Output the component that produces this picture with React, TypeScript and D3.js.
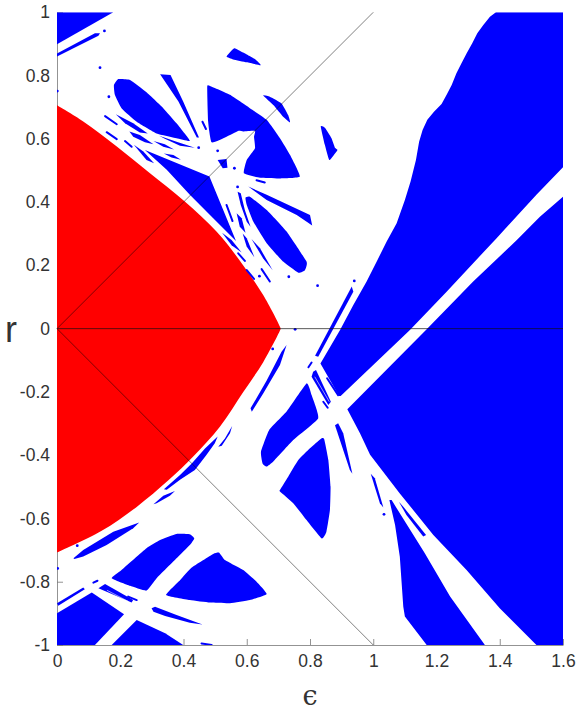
import React, { useEffect, useRef } from "react";
import * as d3 from "d3";

type Pt = [number, number];

const xTicks = [0, 0.2, 0.4, 0.6, 0.8, 1, 1.2, 1.4, 1.6];
const yTicks = [-1, -0.8, -0.6, -0.4, -0.2, 0, 0.2, 0.4, 0.6, 0.8, 1];

// stable region, red
const redRegion: Pt[] = [
  [0, 0.706], [0.083, 0.655], [0.189, 0.576], [0.294, 0.491], [0.405, 0.401], [0.505, 0.306],
  [0.589, 0.2], [0.652, 0.106], [0.705, 0.006], [0.707, 0], [0.705, -0.006], [0.652, -0.106],
  [0.589, -0.2], [0.515, -0.31], [0.43, -0.405], [0.354, -0.478], [0.25, -0.565], [0.14, -0.64],
  [0, -0.708],
];

// blue regions, upper half
const cornerTop: Pt[] = [[0, 1], [0.178, 1], [0, 0.899]];
const cornerSliver: Pt[] = [[0, 0.87], [0.12, 0.934], [0.136, 0.934], [0.131, 0.926], [0, 0.86]];
const topBlob: Pt[] = [[0.536, 0.86], [0.56, 0.886], [0.573, 0.881], [0.6, 0.867], [0.626, 0.852], [0.644, 0.833], [0.6, 0.842], [0.557, 0.851]];
const leftPetal: Pt[] = [[0.18, 0.77], [0.194, 0.789], [0.231, 0.786], [0.283, 0.747], [0.336, 0.697], [0.378, 0.649], [0.42, 0.594], [0.378, 0.602], [0.315, 0.617], [0.252, 0.654], [0.204, 0.697], [0.183, 0.739]];
const spike: Pt[] = [[0.326, 0.804], [0.359, 0.802], [0.399, 0.718], [0.449, 0.604], [0.442, 0.604], [0.384, 0.718]];
const fan: Pt[] = [[0.475, 0.765], [0.484, 0.767], [0.547, 0.739], [0.61, 0.697], [0.663, 0.66], [0.705, 0.602], [0.737, 0.549], [0.768, 0.481], [0.705, 0.475], [0.642, 0.477], [0.591, 0.491], [0.6, 0.533], [0.626, 0.57], [0.623, 0.607], [0.626, 0.625], [0.589, 0.623], [0.573, 0.625], [0.536, 0.607], [0.489, 0.589], [0.478, 0.654]];
const fanSide: Pt[] = [[0.652, 0.737], [0.673, 0.733], [0.71, 0.712], [0.731, 0.675], [0.737, 0.652], [0.715, 0.67], [0.684, 0.707]];
const rightBlob: Pt[] = [[0.834, 0.639], [0.847, 0.635], [0.868, 0.602], [0.879, 0.572], [0.887, 0.565], [0.879, 0.554], [0.861, 0.533], [0.847, 0.581]];
const triangle: Pt[] = [[0.278, 0.565], [0.482, 0.481], [0.566, 0.277], [0.494, 0.349], [0.42, 0.423], [0.347, 0.502]];
const centreBlob: Pt[] = [[0.508, 0.533], [0.536, 0.536], [0.539, 0.509], [0.524, 0.507]];
const lowerBlade: Pt[] = [[0.605, 0.449], [0.663, 0.423], [0.8, 0.359], [0.807, 0.326], [0.758, 0.359], [0.663, 0.407]];
const lowerPetal: Pt[] = [[0.596, 0.414], [0.61, 0.417], [0.663, 0.375], [0.726, 0.307], [0.789, 0.212], [0.784, 0.185], [0.763, 0.177], [0.715, 0.212], [0.663, 0.27], [0.621, 0.338], [0.6, 0.391]];
const upperBananas: Pt[][] = [
  [[0.186, 0.678], [0.241, 0.649], [0.287, 0.617], [0.262, 0.62], [0.215, 0.649]],
  [[0.229, 0.623], [0.262, 0.612], [0.305, 0.583], [0.278, 0.589], [0.241, 0.607]],
  [[0.305, 0.593], [0.341, 0.583], [0.37, 0.566], [0.336, 0.575]],
  [[0.323, 0.61], [0.378, 0.591], [0.436, 0.572], [0.389, 0.578], [0.341, 0.6]],
  [[0.338, 0.554], [0.368, 0.549], [0.392, 0.534], [0.362, 0.541]],
  [[0.243, 0.581], [0.273, 0.56], [0.307, 0.523], [0.283, 0.533]],
  [[0.571, 0.433], [0.581, 0.428], [0.594, 0.375], [0.612, 0.322], [0.6, 0.338], [0.581, 0.391]],
  [[0.568, 0.365], [0.584, 0.349], [0.596, 0.303], [0.578, 0.322]],
  [[0.522, 0.303], [0.552, 0.28], [0.584, 0.241], [0.552, 0.264]],
  [[0.587, 0.301], [0.6, 0.286], [0.624, 0.226], [0.6, 0.259]],
  [[0.615, 0.283], [0.642, 0.254], [0.682, 0.185], [0.652, 0.222]],
];

// big wedges on the right
const upperWedge: Pt[] = [
  [1.388, 1], [1.369, 0.986], [1.348, 0.96], [1.329, 0.934], [1.313, 0.902], [1.295, 0.87], [1.279, 0.839],
  [1.263, 0.807], [1.248, 0.77], [1.232, 0.739], [1.216, 0.71], [1.192, 0.686], [1.171, 0.66], [1.156, 0.628],
  [1.145, 0.591], [1.135, 0.533], [1.118, 0.465], [1.1, 0.407], [1.074, 0.333], [1.042, 0.275], [1.011, 0.212],
  [0.979, 0.149], [0.937, 0.075], [0.895, -0.004], [0.833, -0.11], [0.892, -0.213], [0.897, -0.213],
  [1.116, -0.004], [1.232, 0.117], [1.39, 0.286], [1.516, 0.423], [1.6, 0.51], [1.6, 1],
];
const lowerWedge: Pt[] = [
  [1.6, 0.417], [1.527, 0.354], [1.454, 0.28], [1.316, 0.149], [1.169, -0.002], [0.918, -0.255],
  [0.958, -0.331], [0.99, -0.399], [1.084, -0.521], [1.19, -0.652], [1.295, -0.763], [1.4, -0.884],
  [1.516, -1], [1.6, -1],
];
const bottomWedge: Pt[] = [[1.051, -0.542], [1.058, -0.542], [1.163, -0.71], [1.243, -0.847], [1.353, -1], [1.169, -1], [1.1, -0.91], [1.095, -0.879], [1.084, -0.721], [1.069, -0.621]];
const midLeftLobe: Pt[] = [[0.789, -0.173], [0.805, -0.21], [0.826, -0.283], [0.747, -0.352], [0.684, -0.42], [0.663, -0.436], [0.65, -0.426], [0.645, -0.389], [0.671, -0.32], [0.726, -0.262]];
const midLowerLobe: Pt[] = [[0.836, -0.347], [0.845, -0.35], [0.858, -0.415], [0.865, -0.499], [0.863, -0.573], [0.852, -0.642], [0.837, -0.663], [0.789, -0.605], [0.747, -0.552], [0.705, -0.515], [0.705, -0.51], [0.731, -0.468], [0.763, -0.415], [0.8, -0.378]];
const middleSlivers: Pt[][] = [
  [[0.932, 0.133], [0.937, 0.117], [0.826, -0.089], [0.816, -0.086]],
  [[0.726, -0.052], [0.705, -0.115], [0.652, -0.205], [0.616, -0.263], [0.612, -0.252], [0.663, -0.164], [0.71, -0.073]],
  [[0.81, -0.136], [0.819, -0.131], [0.866, -0.231], [0.858, -0.241], [0.805, -0.152]],
  [[0.879, -0.305], [0.889, -0.299], [0.905, -0.331], [0.934, -0.459], [0.926, -0.447]],
  [[0.992, -0.459], [1.005, -0.473], [1.032, -0.565], [1.021, -0.552]],
  [[1.081, -0.547], [1.095, -0.563], [1.167, -0.652], [1.158, -0.657], [1.105, -0.589]],
  [[0.338, -0.508], [0.389, -0.463], [0.426, -0.426], [0.468, -0.379], [0.508, -0.341], [0.499, -0.362], [0.473, -0.399], [0.436, -0.447], [0.389, -0.478], [0.347, -0.509]],
  [[0.51, -0.373], [0.531, -0.347], [0.554, -0.308], [0.547, -0.331], [0.521, -0.37]],
  [[0.305, -0.555], [0.336, -0.528], [0.373, -0.513], [0.357, -0.528], [0.315, -0.552]],
];

// lower left group
const lowerSliver: Pt[] = [[0.052, -0.726], [0.083, -0.7], [0.178, -0.642], [0.26, -0.613], [0.241, -0.631], [0.157, -0.684], [0.083, -0.72], [0.055, -0.728]];
const lowerLeaf: Pt[] = [[0.173, -0.789], [0.204, -0.763], [0.283, -0.694], [0.326, -0.668], [0.378, -0.649], [0.42, -0.65], [0.434, -0.663], [0.42, -0.684], [0.378, -0.726], [0.315, -0.789], [0.283, -0.828], [0.231, -0.813]];
const lowerFan: Pt[] = [[0.345, -0.842], [0.389, -0.795], [0.426, -0.755], [0.494, -0.712], [0.513, -0.708], [0.531, -0.731], [0.589, -0.763], [0.631, -0.8], [0.663, -0.839], [0.61, -0.858], [0.547, -0.868], [0.484, -0.866], [0.42, -0.858]];
const cornerBottom: Pt[] = [[0, -0.9], [0.11, -0.834], [0.212, -0.903], [0.12, -1], [0, -1]];
const bottomPiece: Pt[] = [[0.173, -1], [0.252, -0.921], [0.342, -0.963], [0.399, -1]];
const lowerBands: Pt[][] = [
  [[0, -0.868], [0.083, -0.818], [0.088, -0.824], [0.004, -0.876]],
  [[0.131, -0.821], [0.152, -0.807], [0.241, -0.858], [0.236, -0.866]],
  [[0.299, -0.884], [0.31, -0.879], [0.378, -0.905], [0.46, -0.935], [0.42, -0.93], [0.342, -0.908], [0.305, -0.895]],
];

// straight edged pieces, slivers and the ones that meet the frame
const sharpRegions: Pt[][] = [
  cornerTop, cornerSliver, spike, triangle, centreBlob, lowerBlade, ...upperBananas, upperWedge, lowerWedge,
  bottomWedge, ...middleSlivers, lowerSliver, cornerBottom, bottomPiece, ...lowerBands,
];
const roundRegions: Pt[][] = [
  topBlob, leftPetal, fan, fanSide, rightBlob, lowerPetal, midLeftLobe, midLowerLobe, lowerLeaf, lowerFan,
];

// hair-thin strips, start and end
const thinStrips: [Pt, Pt][] = [
  [[0.152, 0.672], [0.189, 0.646]],
  [[0.215, 0.593], [0.236, 0.575]],
  [[0.157, 0.621], [0.189, 0.599]],
  [[0.46, 0.654], [0.471, 0.631]],
  [[0.631, 0.469], [0.657, 0.462]],
  [[0.536, 0.391], [0.555, 0.34]],
  [[0.647, 0.188], [0.673, 0.149]],
  [[0.6, 0.185], [0.623, 0.157]],
  [[0.573, 0.238], [0.594, 0.214]],
  [[0.795, -0.122], [0.805, -0.107]],
  [[0.854, -0.157], [0.889, -0.21]],
  [[0.842, -0.231], [0.856, -0.25]],
  [[0.115, -0.803], [0.128, -0.797]],
  [[0.225, -0.847], [0.252, -0.858]],
  [[0.457, -0.995], [0.489, -1]],
];

// isolated specks
const specks: Pt[] = [
  [0.15, 0.941], [0.136, 0.825], [0.001, 0.751], [0.164, 0.733], [0.448, 0.572], [0.508, 0.562], [0.561, 0.507],
  [0.571, 0.448], [0.64, 0.166], [0.733, 0.164], [0.824, 0.136], [0.753, -0.002], [0.682, -0.064], [0.94, 0.151],
  [1.034, -0.587], [0.064, -0.686], [0.002, -0.758],
];

// white seams left inside the bands
const seams: [Pt, Pt][] = [
  [[0.815, -0.152], [0.861, -0.231]],
  [[0.158, -0.827], [0.225, -0.862]],
];

const rays: [Pt, Pt][] = [
  [[0, 0], [1, 1]],
  [[0, 0], [1, -1]],
];
const zeroLine: [Pt, Pt] = [[0, 0], [1.6, 0]];

const W = 580;
const H = 712;
const FONT = "'Liberation Sans', Arial, sans-serif";
const INK = "#333";

export default function App() {
  const ref = useRef<SVGSVGElement | null>(null);

  useEffect(() => {
    const svg = d3.select(ref.current);
    svg.selectAll("*").remove();

    const x = d3.scaleLinear().domain([0, 1.6]).range([57, 563]);
    const y = d3.scaleLinear().domain([-1, 1]).range([645, 12.3]);
    const line = d3.line<Pt>().x((d) => x(d[0])).y((d) => y(d[1]));
    const smooth = d3.line<Pt>().x((d) => x(d[0])).y((d) => y(d[1])).curve(d3.curveCatmullRom.alpha(0.5));
    const round = d3.line<Pt>().x((d) => x(d[0])).y((d) => y(d[1])).curve(d3.curveCardinalClosed.tension(0.6));

    svg.append("clipPath").attr("id", "plot").append("rect")
      .attr("x", x(0)).attr("y", y(1)).attr("width", x(1.6) - x(0)).attr("height", y(-1) - y(1));

    // axes go under the regions, the regions hide the ticks they cross
    const xAxis = svg.append("g").attr("transform", `translate(0,${y(-1)})`)
      .call(d3.axisBottom(x).tickValues(xTicks).tickFormat((d) => String(d)).tickSizeInner(-6).tickSizeOuter(0).tickPadding(10));
    const yAxis = svg.append("g").attr("transform", `translate(${x(0)},0)`)
      .call(d3.axisLeft(y).tickValues(yTicks).tickFormat((d) => String(d)).tickSizeInner(-6).tickSizeOuter(0).tickPadding(7));
    yAxis.selectAll(".tick").filter((d) => d === 0.8).select("line").remove();

    [xAxis, yAxis].forEach((g) => {
      g.selectAll("path,line").attr("stroke", "#777").attr("stroke-width", 0.8);
      g.selectAll("text").attr("fill", INK).attr("font-family", FONT).attr("font-size", 17.5);
    });

    const plot = svg.append("g").attr("clip-path", "url(#plot)");

    plot.append("path").attr("d", smooth(redRegion) + "Z").attr("fill", "#ff0000");

    plot.append("g").attr("fill", "#0000ff")
      .selectAll("path").data(sharpRegions).join("path").attr("d", (d) => line(d) + "Z");
    plot.append("g").attr("fill", "#0000ff")
      .selectAll("path").data(roundRegions).join("path").attr("d", (d) => round(d));

    plot.append("g").attr("stroke", "#0000ff").attr("stroke-width", 2).attr("stroke-linecap", "round")
      .selectAll("path").data(thinStrips).join("path").attr("d", (d) => line(d));

    plot.append("g").attr("fill", "#0000ff")
      .selectAll("circle").data(specks).join("circle")
      .attr("cx", (d) => x(d[0])).attr("cy", (d) => y(d[1])).attr("r", 1.4);

    plot.append("g").attr("stroke", "#fff").attr("stroke-width", 0.6)
      .selectAll("path").data(seams).join("path").attr("d", (d) => line(d));

    svg.append("g").attr("stroke", "#000").attr("stroke-width", 0.5)
      .selectAll("path").data(rays).join("path").attr("d", (d) => line(d));
    svg.append("path").attr("d", line(zeroLine)).attr("stroke", "#111").attr("stroke-width", 0.7);

    svg.append("text").attr("x", 5).attr("y", 342).attr("font-family", FONT).attr("font-size", 36).attr("fill", INK).text("r");
    svg.append("text").attr("x", 310).attr("y", 705).attr("text-anchor", "middle")
      .attr("font-family", "'DejaVu Serif', serif").attr("font-size", 27).attr("fill", INK).text("\u03f5");
  }, []);

  return <svg ref={ref} width={W} height={H} style={{ position: "absolute", left: 0, top: 0 }} />;
}
